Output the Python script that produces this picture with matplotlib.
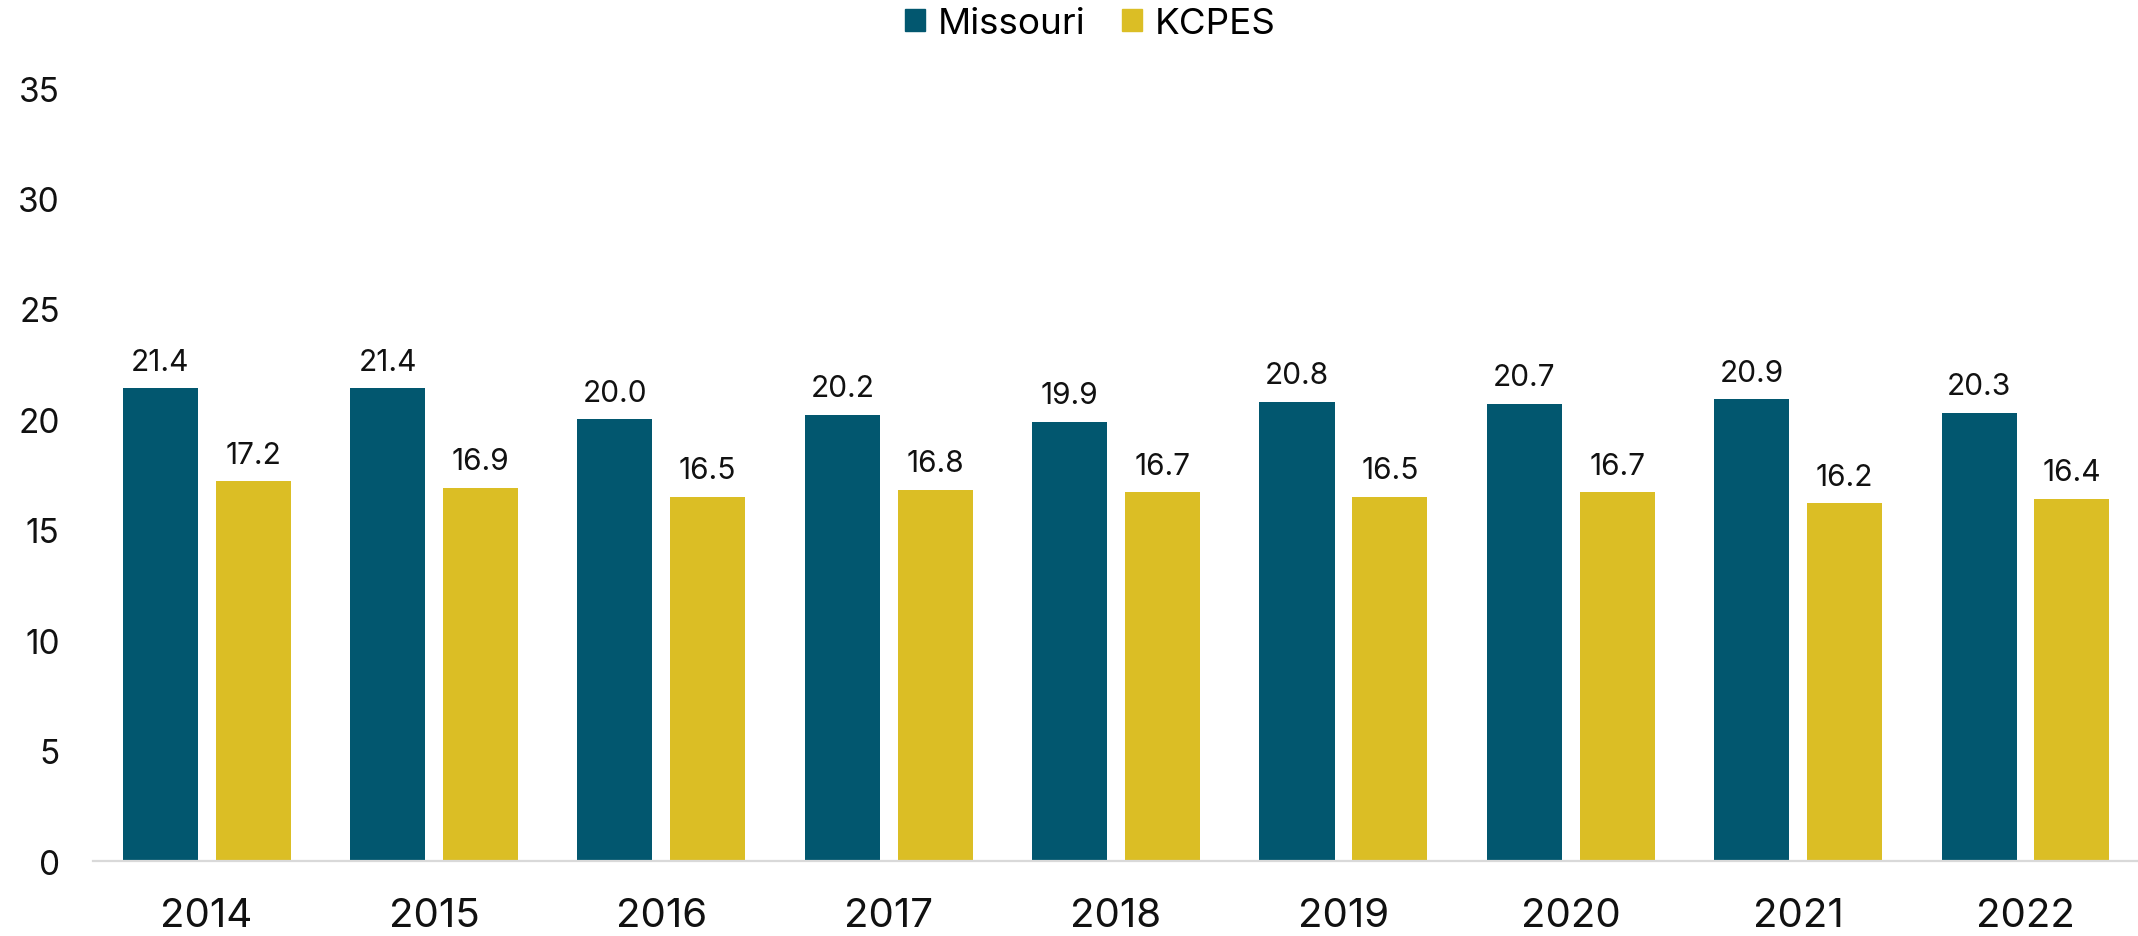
import numpy as np
import matplotlib
matplotlib.use("Agg")
import matplotlib.pyplot as plt
from matplotlib.patches import Patch

years = ["2014", "2015", "2016", "2017", "2018", "2019", "2020", "2021", "2022"]
missouri = [21.4, 21.4, 20.0, 20.2, 19.9, 20.8, 20.7, 20.9, 20.3]
kcpes = [17.2, 16.9, 16.5, 16.8, 16.7, 16.5, 16.7, 16.2, 16.4]

MO_COLOR = "#02576F"
KC_COLOR = "#DBBE25"

plt.rcParams["font.family"] = ["Inter", "DejaVu Sans"]

fig = plt.figure(figsize=(21.38, 9.37), dpi=100)
ax = fig.add_axes([0.0435, 0.080, 0.957, 0.825])

x = np.arange(len(years))
width = 0.33
offset = 0.204

bars_mo = ax.bar(x - offset, missouri, width, color=MO_COLOR, label="Missouri")
bars_kc = ax.bar(x + offset, kcpes, width, color=KC_COLOR, label="KCPES")

for bars in (bars_mo, bars_kc):
    ax.bar_label(bars, fmt="%.1f", padding=9, fontsize=21.5, color="#111111")

ax.set_xlim(-0.5, 8.5)
ax.set_ylim(0, 35)
ax.set_yticks(range(0, 36, 5))
ax.set_xticks(x)
ax.set_xticklabels(years)

ax.tick_params(axis="x", length=0, pad=26, labelsize=29, labelcolor="#111111")
ax.tick_params(axis="y", length=0, pad=24, labelsize=24, labelcolor="#111111")

for side in ("top", "right", "left"):
    ax.spines[side].set_visible(False)
ax.spines["bottom"].set_color("#D9D9D9")
ax.spines["bottom"].set_linewidth(1.6)

handles = [Patch(color=MO_COLOR, label="Missouri"),
           Patch(color=KC_COLOR, label="KCPES")]
fig.legend(
    handles=handles,
    loc="center",
    bbox_to_anchor=(0.51, 0.974),
    ncol=2,
    frameon=False,
    fontsize=26.5,
    handlelength=0.53,
    handleheight=0.53,
    handletextpad=0.35,
    columnspacing=1.0,
)

fig.savefig("out.png", dpi=100)
